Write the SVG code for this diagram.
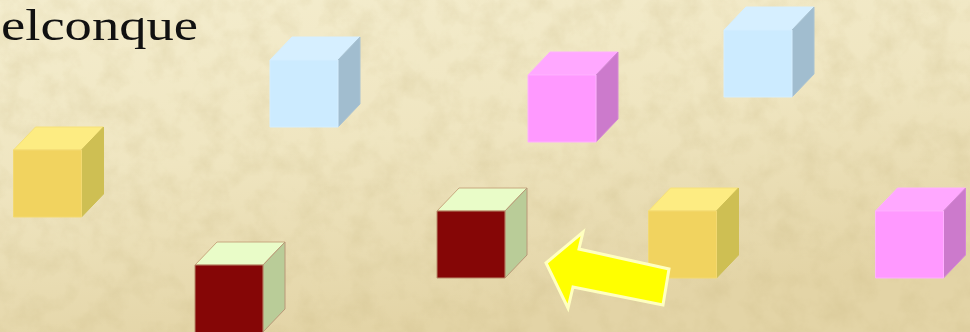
<svg xmlns="http://www.w3.org/2000/svg" width="970" height="332" viewBox="0 0 970 332">
<defs>
<linearGradient id="bg" x1="0" y1="0" x2="0.35" y2="1">
<stop offset="0" stop-color="#F4EDCE"/>
<stop offset="0.5" stop-color="#EFE5C0"/>
<stop offset="1" stop-color="#E3D4A6"/>
</linearGradient>
<filter id="paper" x="0" y="0" width="100%" height="100%">
<feTurbulence type="fractalNoise" baseFrequency="0.04" numOctaves="4" seed="3" result="n"/>
<feColorMatrix in="n" type="matrix" values="0 0 0 0 0.55  0 0 0 0 0.45  0 0 0 0 0.2  0 0 0 1.4 -0.55"/>
</filter>
<style>
.f{stroke-width:1;stroke-linejoin:round}
.yel .fr{fill:#F1D35F;stroke:#F3D970}.yel .tp{fill:#FDEC82;stroke:#F6E07A}.yel .rt{fill:#CEBF53;stroke:#CEBF53}
.blu .fr{fill:#CCEBFF;stroke:#D4EEFF}.blu .tp{fill:#D6EFFF;stroke:#D6EFFF}.blu .rt{fill:#A1BDCF;stroke:#A8C2D2}
.pnk .fr{fill:#FF99FF;stroke:#FFB0FF}.pnk .tp{fill:#FFA8FF;stroke:#FFB0FF}.pnk .rt{fill:#CC7ACC;stroke:#D488D4}
.drk .fr{fill:#850606;stroke:#B88A6A}.drk .tp{fill:#E9FCC8;stroke:#C8A880}.drk .rt{fill:#B9CC98;stroke:#B89878}
.title{font-family:"Liberation Serif","DejaVu Serif",serif;font-size:44px;fill:#111}
</style>
</defs>
<rect width="970" height="332" fill="url(#bg)"/>
<rect width="970" height="332" filter="url(#paper)" opacity="0.3"/>
<text class="title" x="1" y="40" textLength="197" lengthAdjust="spacingAndGlyphs">elconque</text>

<g id="cube-yellow-1" class="yel" transform="translate(13.5,150)">
<polygon class="f tp" points="0,0 22,-23 90,-23 68,0"/>
<polygon class="f rt" points="68,0 90,-23 90,44 68,67"/>
<rect class="f fr" x="0" y="0" width="68" height="67"/>
</g>
<g id="cube-blue-1" class="blu" transform="translate(270,60)">
<polygon class="f tp" points="0,0 22,-23 90,-23 68,0"/>
<polygon class="f rt" points="68,0 90,-23 90,44 68,67"/>
<rect class="f fr" x="0" y="0" width="68" height="67"/>
</g>
<g id="cube-pink-1" class="pnk" transform="translate(528,75)">
<polygon class="f tp" points="0,0 22,-23 90,-23 68,0"/>
<polygon class="f rt" points="68,0 90,-23 90,44 68,67"/>
<rect class="f fr" x="0" y="0" width="68" height="67"/>
</g>
<g id="cube-blue-2" class="blu" transform="translate(724,30)">
<polygon class="f tp" points="0,0 22,-23 90,-23 68,0"/>
<polygon class="f rt" points="68,0 90,-23 90,44 68,67"/>
<rect class="f fr" x="0" y="0" width="68" height="67"/>
</g>
<g id="cube-red-1" class="drk" transform="translate(437,211)">
<polygon class="f tp" points="0,0 22,-23 90,-23 68,0"/>
<polygon class="f rt" points="68,0 90,-23 90,44 68,67"/>
<rect class="f fr" x="0" y="0" width="68" height="67"/>
</g>
<g id="cube-yellow-2" class="yel" transform="translate(648.5,211)">
<polygon class="f tp" points="0,0 22,-23 90,-23 68,0"/>
<polygon class="f rt" points="68,0 90,-23 90,44 68,67"/>
<rect class="f fr" x="0" y="0" width="68" height="67"/>
</g>
<g id="cube-pink-2" class="pnk" transform="translate(875.5,211)">
<polygon class="f tp" points="0,0 22,-23 90,-23 68,0"/>
<polygon class="f rt" points="68,0 90,-23 90,44 68,67"/>
<rect class="f fr" x="0" y="0" width="68" height="67"/>
</g>
<g id="cube-red-2" class="drk" transform="translate(195,265)">
<polygon class="f tp" points="0,0 22,-23 90,-23 68,0"/>
<polygon class="f rt" points="68,0 90,-23 90,44 68,67"/>
<rect class="f fr" x="0" y="0" width="68" height="80"/>
</g>

<g id="connectors">
<polygon id="arrow" points="546,263 583,232 579,249 669,269 663,305 573,287 568,308" fill="#FFFF00" stroke="#FFFFC0" stroke-width="3" stroke-linejoin="miter"/>
</g>
</svg>
